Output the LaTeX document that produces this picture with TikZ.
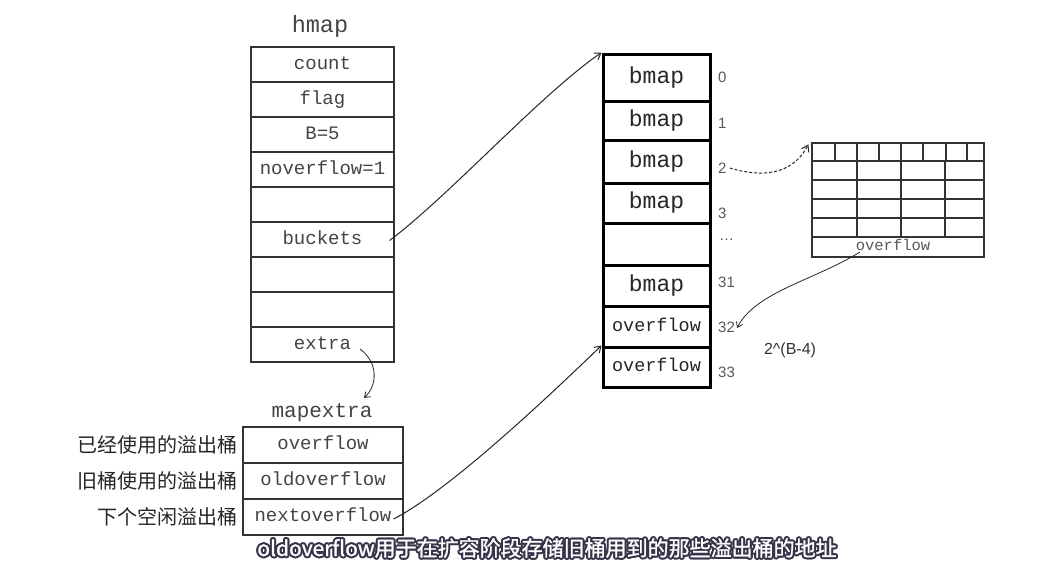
\documentclass[tikz,border=0pt]{standalone}
\usepackage{fontspec}
\setmonofont{Liberation Mono}
\setsansfont{Liberation Sans}
\newfontfamily\cjk{Noto Sans CJK SC}
\newfontfamily\cjkbold[FakeBold=1.2]{Noto Sans CJK SC}
\usetikzlibrary{arrows.meta,calc}
\definecolor{ink}{HTML}{333333}
\definecolor{txt}{HTML}{444444}
\definecolor{subline}{HTML}{34344A}
\begin{document}
\begin{tikzpicture}[x=1pt,y=-1pt,
  mono/.style={font=\ttfamily\fontsize{#1}{#1}\selectfont,
    text height={#1*0.56pt},text depth={#1*0.06pt}},
  field/.style={draw=ink,line width=1.2pt,minimum width=143pt,minimum height=35pt,
    inner sep=0pt,text=txt,mono=19},
  xfield/.style={field,minimum width=160pt,minimum height=36pt},
  slot/.style={draw=black,line width=3pt,minimum width=107pt,inner sep=0pt,
    text=black!85,mono=23},
  oslot/.style={slot,mono=18.5},
  idx/.style={anchor=west,inner sep=0pt,font=\sffamily\fontsize{15}{15}\selectfont,text=black!65},
  title/.style={inner sep=0pt,text=txt,mono=#1},
  side/.style={anchor=east,inner sep=0pt,text=black!85,font=\cjk\fontsize{20}{20}\selectfont},
  conn/.style={line width=1pt,black!85,-{Straight Barb[length=6pt,width=8pt]}},
  thin/.style={line width=0.8pt,black!85,-{Straight Barb[length=5pt,width=7pt]}},
  subtext/.style={inner sep=0pt,font=\cjkbold\fontsize{21}{21}\selectfont}
]
\useasboundingbox[fill=white] (0,0) rectangle (1053,587);

% ---- hmap ----
\node[title=23.5] (hmap) at (320,27) {hmap};
\foreach \t [count=\i] in {count,flag,B=5,noverflow=1,{},buckets,{},{},extra}
  \node[field] (h\i) at (322.5,{47+35*(\i-0.5)}) {\t};

% ---- mapextra ----
\node[title=21] (mx) at (322,412) {mapextra};
\node[xfield] (m1) at (323,445) {overflow};
\node[xfield] (m2) at (323,481) {oldoverflow};
\node[xfield] (m3) at (323,517) {nextoverflow};
\node[side] (l1) at (238,445) {已经使用的溢出桶};
\node[side] (l2) at (238,481) {旧桶使用的溢出桶};
\node[side] (l3) at (238,517) {下个空闲溢出桶};

% ---- bucket array ----
\node[slot,minimum height=47pt] (b0) at (656.5,77.5) {bmap};
\node[slot,minimum height=39pt] (b1) at (656.5,120.5) {bmap};
\node[slot,minimum height=43pt] (b2) at (656.5,161.5) {bmap};
\node[slot,minimum height=40pt] (b3) at (656.5,203) {bmap};
\node[slot,minimum height=42pt] (b4) at (656.5,244) {};
\node[slot,minimum height=41pt] (b5) at (656.5,285.5) {bmap};
\node[oslot,minimum height=41pt] (b6) at (656.5,326.5) {overflow};
\node[oslot,minimum height=40pt] (b7) at (656.5,367) {overflow};

\node[idx] (i0) at (718,77) {0};
\node[idx] (i1) at (718,123) {1};
\node[idx] (i2) at (718,168) {2};
\node[idx] (i3) at (718,213) {3};
\node[idx] (i4) at (719,240) {\ldots};
\node[idx] (i31) at (718,282) {31};
\node[idx] (i32) at (718,327) {32};
\node[idx] (i33) at (718,372) {33};
\node[inner sep=0pt,font=\sffamily\fontsize{16}{16}\selectfont,text=black!80] (bexp) at (790,350) {2\^{}(B-4)};

% ---- one bucket: tophash row, key/value cells, overflow pointer ----
\node[draw=ink,line width=1.2pt,minimum width=172pt,minimum height=114pt,inner sep=0pt] (blk) at (898,200) {};
\begin{scope}[draw=ink,line width=1.1pt]
  \foreach \yy in {161,180,199,218,237} \draw (812,\yy) -- (984,\yy);
  \foreach \xx in {835,857,879,901,923,946,967} \draw (\xx,143) -- (\xx,161);
  \foreach \xx in {857,901,945} \draw (\xx,161) -- (\xx,237);
\end{scope}
\node[title=15.5,text=black!65] (gof) at (893,247) {overflow};

% ---- connectors ----
\draw[conn] ([xshift=-5pt,yshift=-1pt]h6.east) .. controls (450,195) and (540,95) .. (b0.north west);
\coordinate (xs) at (360,349);
\coordinate (xe) at (364,398);
\draw[thin] (xs) .. controls (378,362) and (378,385) .. (xe);
\draw[conn] ([xshift=-10pt,yshift=-2pt]m3.east) .. controls (450,490) and (550,395) .. (b7.north west);
\draw[conn,dashed,dash pattern=on 3pt off 2pt] ([xshift=3pt]i2.east) .. controls (770,180) and (795,170) .. ([xshift=-3pt,yshift=-2pt]blk.north west);
\draw[thin] ([xshift=-33pt]gof.south) .. controls (815,280) and (755,292) .. ([xshift=2pt,yshift=-1pt]i32.east);

% ---- caption ----
\foreach \a in {0,30,...,330}
  \node[subtext,text=subline] at ([shift={(\a:2pt)}]547,548) {oldoverflow用于在扩容阶段存储旧桶用到的那些溢出桶的地址};
\node[subtext,text=white] (cap) at (547,548) {oldoverflow用于在扩容阶段存储旧桶用到的那些溢出桶的地址};
\end{tikzpicture}
\end{document}
